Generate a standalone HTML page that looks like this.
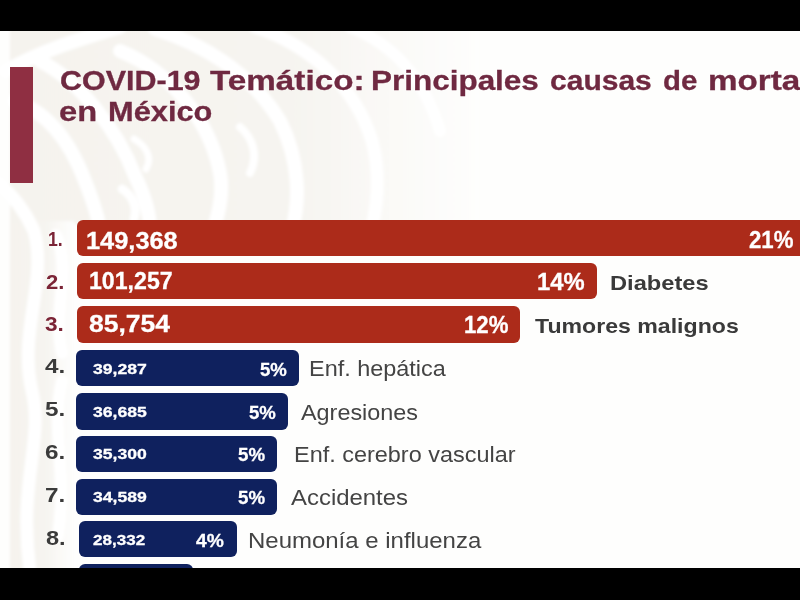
<!DOCTYPE html>
<html lang="es">
<head>
<meta charset="utf-8">
<title>COVID-19 Temático: Principales causas de mortalidad en México</title>
<style>
html,body{margin:0;padding:0;}
body{width:800px;height:600px;overflow:hidden;background:#000;position:relative;font-family:"Liberation Sans",sans-serif;}
#slide{position:absolute;left:0;top:31px;width:800px;height:536.6px;background:#fefefd;overflow:hidden;}
#wm{position:absolute;left:0;top:0;width:800px;height:537px;}
.t{position:absolute;white-space:nowrap;transform-origin:0 50%;}
#accent{position:absolute;left:10px;top:36px;width:23px;height:115.5px;background:#8f2f42;}
.bar{position:absolute;border-radius:6px;}
.red{background:#ac2b1a;}
.blue{background:#0f215e;}
</style>
</head>
<body>
<div id="slide">
<svg id="wm" viewBox="0 0 800 537">
<defs>
<linearGradient id="fade" x1="0" y1="0" x2="1" y2="0">
<stop offset="0" stop-color="#f5f3ee"/>
<stop offset="0.6" stop-color="#f6f4f0"/>
<stop offset="1" stop-color="#fefefd"/>
</linearGradient>
<linearGradient id="fade2" x1="0" y1="0" x2="1" y2="0">
<stop offset="0" stop-color="#f5f3ee"/>
<stop offset="0.55" stop-color="#f6f4f0"/>
<stop offset="1" stop-color="#fefefd"/>
</linearGradient>
<filter id="soft" x="-5%" y="-5%" width="110%" height="110%"><feGaussianBlur stdDeviation="1.8"/></filter>
</defs>
<g filter="url(#soft)">
<rect x="10" y="-5" width="470" height="198" fill="url(#fade)"/>
<rect x="10" y="190" width="64" height="352" fill="url(#fade2)"/>
<g fill="none" stroke="#ffffff" stroke-linecap="round">
<path d="M6 40 C40 20 80 8 120 -4" stroke-width="14"/>
<path d="M14 70 C40 78 66 100 85 150 C93 170 98 185 100 199" stroke-width="14"/>
<path d="M40 30 C80 50 118 100 135 145 C145 165 150 185 150 199" stroke-width="14"/>
<path d="M120 20 C170 40 210 90 220 142 C224 165 218 185 213 199" stroke-width="14"/>
<path d="M155 -2 C200 12 250 40 280 90 C300 130 300 170 292 199" stroke-width="14"/>
<path d="M255 -4 C310 14 355 55 372 110 C380 140 378 170 372 196" stroke-width="13"/>
<path d="M350 -4 C395 14 425 50 440 100" stroke-width="12"/>
<path d="M134 108 C148 116 152 128 146 138" stroke-width="7"/>
<path d="M122 158 C132 164 138 176 134 188" stroke-width="9"/>
<path d="M240 96 C254 108 258 126 250 142" stroke-width="8"/>
<path d="M-2 152 C14 165 26 182 34 200 C48 250 18 300 32 360 C44 410 18 450 30 540" stroke-width="13"/>
<path d="M56 204 C72 240 52 280 62 322" stroke-width="12"/>
<path d="M62 350 C50 400 68 440 58 505" stroke-width="12"/>
</g>
</g>
</svg>

<div id="accent"></div>
<div class="bar red" style="left:77px;top:189.3px;width:743.0px;height:36.0px;"></div>
<div class="bar red" style="left:77px;top:232.0px;width:519.6px;height:35.9px;"></div>
<div class="bar red" style="left:77px;top:275.2px;width:442.7px;height:36.8px;"></div>
<div class="bar blue" style="left:76.2px;top:319.2px;width:222.4px;height:36.1px;"></div>
<div class="bar blue" style="left:76.2px;top:362.0px;width:211.8px;height:36.5px;"></div>
<div class="bar blue" style="left:76.2px;top:404.7px;width:201.1px;height:36.5px;"></div>
<div class="bar blue" style="left:76.2px;top:447.7px;width:201.1px;height:36.3px;"></div>
<div class="bar blue" style="left:78.5px;top:490.2px;width:158.3px;height:36.3px;"></div>
<div class="bar blue" style="left:79px;top:533.0px;width:114.2px;height:36.0px;"></div>
<div class="t" style="left:59.9px;top:35.1px;font-size:28.2px;line-height:28.2px;font-weight:bold;color:#6f2941;-webkit-text-stroke:0.3px #6f2941;transform:scaleX(1.081);">COVID-19</div>
<div class="t" style="left:209.5px;top:35.1px;font-size:28.2px;line-height:28.2px;font-weight:bold;color:#6f2941;-webkit-text-stroke:0.3px #6f2941;transform:scaleX(1.179);">Temático:</div>
<div class="t" style="left:371.4px;top:35.1px;font-size:28.2px;line-height:28.2px;font-weight:bold;color:#6f2941;-webkit-text-stroke:0.3px #6f2941;transform:scaleX(1.116);">Principales</div>
<div class="t" style="left:549.9px;top:35.1px;font-size:28.2px;line-height:28.2px;font-weight:bold;color:#6f2941;-webkit-text-stroke:0.3px #6f2941;transform:scaleX(1.065);">causas</div>
<div class="t" style="left:662.5px;top:35.1px;font-size:28.2px;line-height:28.2px;font-weight:bold;color:#6f2941;-webkit-text-stroke:0.3px #6f2941;transform:scaleX(1.041);">de</div>
<div class="t" style="left:707.8px;top:35.1px;font-size:28.2px;line-height:28.2px;font-weight:bold;color:#6f2941;-webkit-text-stroke:0.3px #6f2941;transform:scaleX(1.179);">mortalidad</div>
<div class="t" style="left:59.3px;top:66.3px;font-size:28.2px;line-height:28.2px;font-weight:bold;color:#6f2941;-webkit-text-stroke:0.3px #6f2941;transform:scaleX(1.157);">en</div>
<div class="t" style="left:107.9px;top:66.3px;font-size:28.2px;line-height:28.2px;font-weight:bold;color:#6f2941;-webkit-text-stroke:0.3px #6f2941;transform:scaleX(1.092);">México</div>
<div class="t" style="left:47.9px;top:197.6px;font-size:20.9px;line-height:20.9px;font-weight:bold;color:#7b2436;transform:scaleX(0.848);">1.</div>
<div class="t" style="left:45.8px;top:239.7px;font-size:21.1px;line-height:21.1px;font-weight:bold;color:#7b2436;transform:scaleX(1.046);">2.</div>
<div class="t" style="left:45.0px;top:282.9px;font-size:20.9px;line-height:20.9px;font-weight:bold;color:#7b2436;transform:scaleX(1.083);">3.</div>
<div class="t" style="left:44.8px;top:324.3px;font-size:21.1px;line-height:21.1px;font-weight:bold;color:#3b3b3b;transform:scaleX(1.151);">4.</div>
<div class="t" style="left:44.8px;top:367.3px;font-size:21.1px;line-height:21.1px;font-weight:bold;color:#3b3b3b;transform:scaleX(1.151);">5.</div>
<div class="t" style="left:44.8px;top:410.3px;font-size:21.1px;line-height:21.1px;font-weight:bold;color:#3b3b3b;transform:scaleX(1.151);">6.</div>
<div class="t" style="left:44.8px;top:453.3px;font-size:21.1px;line-height:21.1px;font-weight:bold;color:#3b3b3b;transform:scaleX(1.151);">7.</div>
<div class="t" style="left:45.5px;top:496.3px;font-size:21.1px;line-height:21.1px;font-weight:bold;color:#3b3b3b;transform:scaleX(1.118);">8.</div>
<div class="t" style="left:86.2px;top:198.9px;font-size:23.3px;line-height:23.3px;font-weight:bold;color:#fff;-webkit-text-stroke:0.3px #fff;transform:scaleX(1.089);">149,368</div>
<div class="t" style="left:88.6px;top:238.1px;font-size:24.7px;line-height:24.7px;font-weight:bold;color:#fff;-webkit-text-stroke:0.3px #fff;transform:scaleX(0.937);">101,257</div>
<div class="t" style="left:89.0px;top:281.2px;font-size:24.1px;line-height:24.1px;font-weight:bold;color:#fff;-webkit-text-stroke:0.3px #fff;transform:scaleX(1.100);">85,754</div>
<div class="t" style="left:92.6px;top:329.8px;font-size:15.1px;line-height:15.1px;font-weight:bold;color:#fff;-webkit-text-stroke:0.3px #fff;transform:scaleX(1.167);">39,287</div>
<div class="t" style="left:92.6px;top:372.6px;font-size:15.1px;line-height:15.1px;font-weight:bold;color:#fff;-webkit-text-stroke:0.3px #fff;transform:scaleX(1.167);">36,685</div>
<div class="t" style="left:92.6px;top:415.4px;font-size:15.1px;line-height:15.1px;font-weight:bold;color:#fff;-webkit-text-stroke:0.3px #fff;transform:scaleX(1.167);">35,300</div>
<div class="t" style="left:92.6px;top:458.2px;font-size:15.1px;line-height:15.1px;font-weight:bold;color:#fff;-webkit-text-stroke:0.3px #fff;transform:scaleX(1.167);">34,589</div>
<div class="t" style="left:93.3px;top:501.0px;font-size:15.1px;line-height:15.1px;font-weight:bold;color:#fff;-webkit-text-stroke:0.3px #fff;transform:scaleX(1.130);">28,332</div>
<div class="t" style="left:749.0px;top:196.5px;font-size:24.1px;line-height:24.1px;font-weight:bold;color:#fff;-webkit-text-stroke:0.3px #fff;transform:scaleX(0.921);">21%</div>
<div class="t" style="left:537.4px;top:239.0px;font-size:24.1px;line-height:24.1px;font-weight:bold;color:#fff;-webkit-text-stroke:0.3px #fff;transform:scaleX(0.987);">14%</div>
<div class="t" style="left:464.1px;top:282.1px;font-size:23.8px;line-height:23.8px;font-weight:bold;color:#fff;-webkit-text-stroke:0.3px #fff;transform:scaleX(0.932);">12%</div>
<div class="t" style="left:260.0px;top:329.8px;font-size:18.9px;line-height:18.9px;font-weight:bold;color:#fff;-webkit-text-stroke:0.3px #fff;transform:scaleX(0.982);">5%</div>
<div class="t" style="left:249.0px;top:372.6px;font-size:18.9px;line-height:18.9px;font-weight:bold;color:#fff;-webkit-text-stroke:0.3px #fff;transform:scaleX(0.982);">5%</div>
<div class="t" style="left:238.4px;top:415.4px;font-size:18.9px;line-height:18.9px;font-weight:bold;color:#fff;-webkit-text-stroke:0.3px #fff;transform:scaleX(0.989);">5%</div>
<div class="t" style="left:238.4px;top:458.2px;font-size:18.9px;line-height:18.9px;font-weight:bold;color:#fff;-webkit-text-stroke:0.3px #fff;transform:scaleX(0.989);">5%</div>
<div class="t" style="left:196.0px;top:501.0px;font-size:18.9px;line-height:18.9px;font-weight:bold;color:#fff;-webkit-text-stroke:0.3px #fff;transform:scaleX(1.018);">4%</div>
<div class="t" style="left:609.8px;top:241.9px;font-size:20.5px;line-height:20.5px;font-weight:bold;color:#3a3a3a;transform:scaleX(1.154);">Diabetes</div>
<div class="t" style="left:534.5px;top:284.8px;font-size:20.1px;line-height:20.1px;font-weight:bold;color:#3a3a3a;transform:scaleX(1.150);">Tumores malignos</div>
<div class="t" style="left:308.7px;top:326.9px;font-size:22.1px;line-height:22.1px;font-weight:normal;color:#444444;transform:scaleX(1.061);">Enf. hepática</div>
<div class="t" style="left:301.0px;top:371.3px;font-size:22.1px;line-height:22.1px;font-weight:normal;color:#444444;transform:scaleX(1.059);">Agresiones</div>
<div class="t" style="left:293.9px;top:413.3px;font-size:22.1px;line-height:22.1px;font-weight:normal;color:#444444;transform:scaleX(1.061);">Enf. cerebro vascular</div>
<div class="t" style="left:291.0px;top:456.3px;font-size:22.1px;line-height:22.1px;font-weight:normal;color:#444444;transform:scaleX(1.083);">Accidentes</div>
<div class="t" style="left:247.9px;top:499.3px;font-size:22.1px;line-height:22.1px;font-weight:normal;color:#444444;transform:scaleX(1.085);">Neumonía e influenza</div>
</div>
</body>
</html>
